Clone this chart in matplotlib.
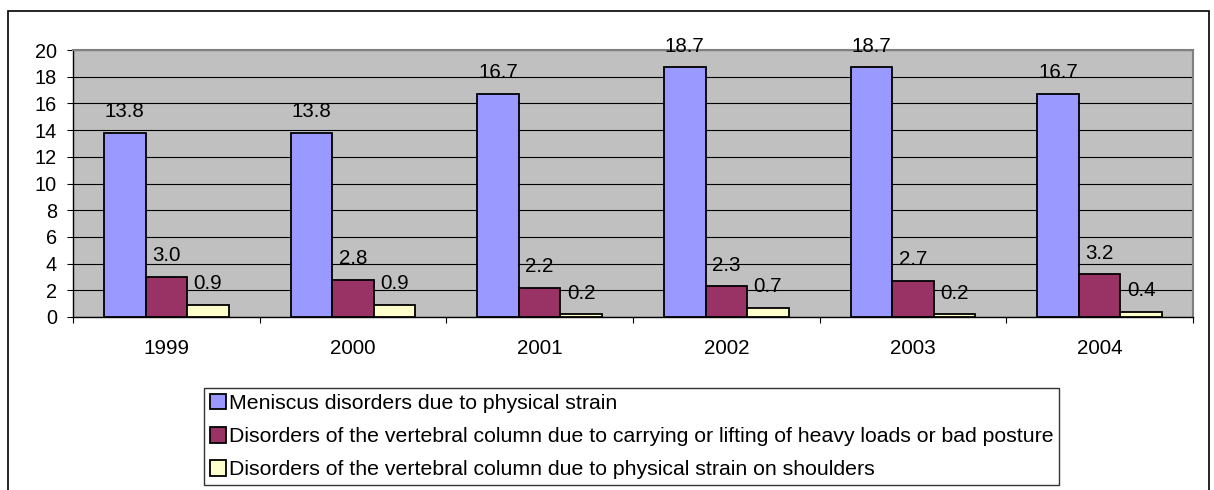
import matplotlib
matplotlib.use("Agg")
import matplotlib.pyplot as plt
import numpy as np
from matplotlib.patches import Rectangle

years = ["1999", "2000", "2001", "2002", "2003", "2004"]
series_names = [
    "Meniscus disorders due to physical strain",
    "Disorders of the vertebral column due to carrying or lifting of heavy loads or bad posture",
    "Disorders of the vertebral column due to physical strain on shoulders",
]
meniscus = [13.8, 13.8, 16.7, 18.7, 18.7, 16.7]
vertebral_loads = [3.0, 2.8, 2.2, 2.3, 2.7, 3.2]
vertebral_shoulders = [0.9, 0.9, 0.2, 0.7, 0.2, 0.4]
colors = ["#9999FF", "#993366", "#FFFFCC"]

plt.rcParams['font.family'] = ['Liberation Sans', 'DejaVu Sans']

W, H = 1214, 490
fig = plt.figure(figsize=(W / 100, H / 100), dpi=100)
ax = fig.add_axes([73 / W, 1 - 317 / H, (1193 - 73) / W, (317 - 50) / H])
ax.set_facecolor("#C0C0C0")

x = np.arange(len(years))
bw = 1 / 4.5
data = [meniscus, vertebral_loads, vertebral_shoulders]
for i, (vals, c, name) in enumerate(zip(data, colors, series_names)):
    pos = x + (i - 1) * bw
    bars = ax.bar(pos, vals, width=bw, color=c, edgecolor="black", linewidth=1.3,
                  label=name, zorder=3)
    for b, v in zip(bars, vals):
        ax.annotate(f"{v:.1f}", (b.get_x() + b.get_width() / 2, v),
                    xytext=(0, 11.2), textcoords="offset points",
                    ha="center", va="baseline", fontsize=14.8, zorder=4)

ax.set_xlim(-0.5, len(years) - 0.5)
ax.set_ylim(0, 20)
ax.set_yticks(np.arange(0, 21, 2))
ax.yaxis.grid(True, color="black", linewidth=0.8)
ax.set_axisbelow(True)

ax.set_xticks(x)
ax.set_xticklabels(years, fontsize=14.9)
ax.tick_params(axis="x", which="major", length=0, pad=16)
ax.set_xticks(np.arange(-0.5, len(years), 1), minor=True)
ax.tick_params(axis="x", which="minor", length=4.5, width=0.8, direction="out")
ax.tick_params(axis="y", length=4.5, width=0.8, pad=7, labelsize=14.3)

for s in ["left", "bottom"]:
    ax.spines[s].set_color("black")
    ax.spines[s].set_linewidth(1.0)
for s in ["top", "right"]:
    ax.spines[s].set_color("#808080")
    ax.spines[s].set_linewidth(1.5)

leg = fig.legend(loc="upper left", bbox_to_anchor=(204 / W, 1 - 388 / H),
                 bbox_transform=fig.transFigure, borderaxespad=0,
                 fontsize=15.3, frameon=True, fancybox=False, shadow=False,
                 handlelength=0.75, handleheight=0.75, handletextpad=0.15,
                 labelspacing=0.66, borderpad=0.27)
leg.get_frame().set_edgecolor("black")
leg.get_frame().set_linewidth(1.0)

fig.patches.append(Rectangle((8 / W, -0.05), (1209 - 8) / W, 1.05 - 11 / H,
                             transform=fig.transFigure, fill=False,
                             edgecolor="black", linewidth=1.2, zorder=0))

fig.savefig("out.png", dpi=100)
